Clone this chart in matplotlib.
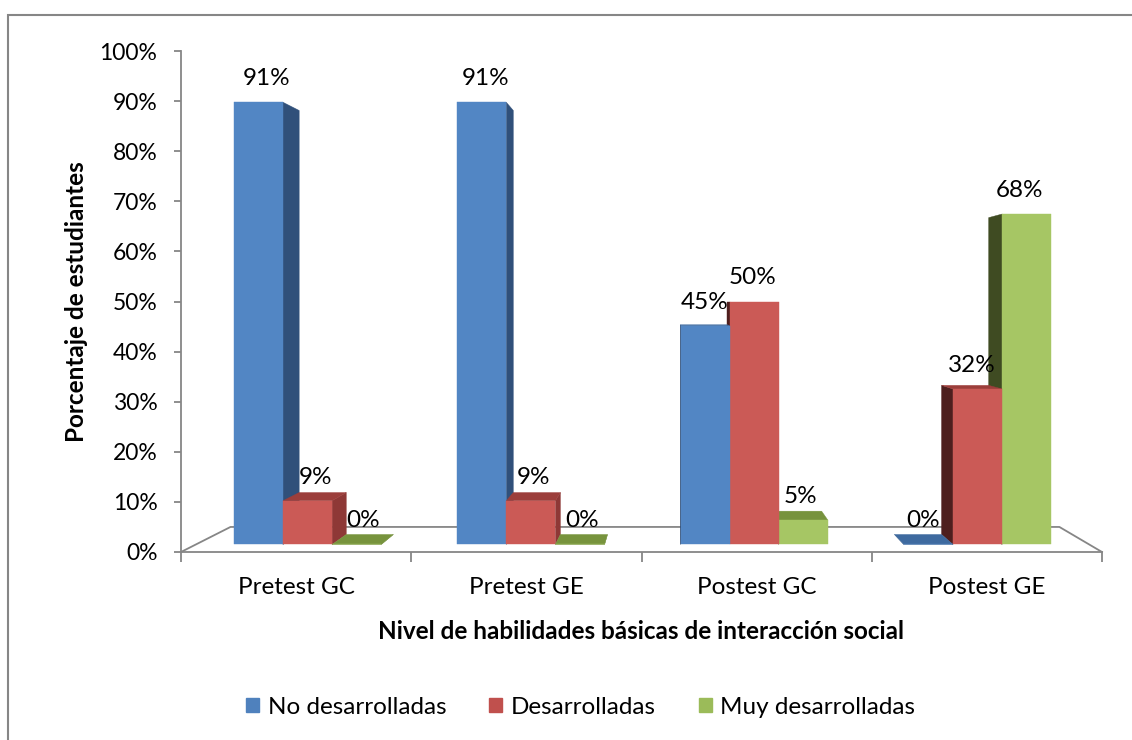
import matplotlib.pyplot as plt
from matplotlib.patches import Polygon, Patch, Rectangle
import numpy as np

plt.rcParams['font.family'] = ['Lato', 'DejaVu Sans']

categories = ['Pretest GC', 'Pretest GE', 'Postest GC', 'Postest GE']
series = ['No desarrolladas', 'Desarrolladas', 'Muy desarrolladas']
no_desarrolladas = [91, 91, 45, 0]
desarrolladas = [9, 9, 50, 32]
muy_desarrolladas = [0, 0, 5, 68]
values = [no_desarrolladas, desarrolladas, muy_desarrolladas]
yticks = np.arange(0, 101, 10)

# colours per series: front, right side, left side, top
front_c = ['#5286C4', '#CB5A56', '#A6C664']
right_c = ['#30507A', '#8E3836', '#6E8A3A']
left_c = ['#2B4468', '#4E1F1E', '#3F4B22']
top_c = ['#3E6A9F', '#9C3E3B', '#77933D']
legend_c = ['#4F81BD', '#C0504D', '#9BBB59']
grey = '#868686'
fs = 17.5

# fake perspective: points recede toward a vanishing point
vp = (1.65, 50.0)
z_front, z_back, z_floor = 0.03, 0.07, 0.10
bar_w = 0.22


def proj(x, y, z):
    return (x + z * (vp[0] - x), y + z * (vp[1] - y))


fig = plt.figure(figsize=(11.32, 7.40), dpi=100)
ax = fig.add_axes([181 / 1132, 1 - 552 / 740, 921 / 1132, 501 / 740])
ax.set_xlim(-0.5, len(categories) - 0.5)
ax.set_ylim(0, 100)

# floor outline
n = len(categories)
floor = [proj(-0.5, 0, 0), proj(-0.5, 0, z_floor), proj(n - 0.5, 0, z_floor), proj(n - 0.5, 0, 0)]
ax.plot([p[0] for p in floor], [p[1] for p in floor], color=grey, lw=1.3, clip_on=False, zorder=1)


def face(pts, color):
    ax.add_patch(Polygon(pts, closed=True, facecolor=color, edgecolor=color, lw=0.3, zorder=2))


for i, cat in enumerate(categories):
    left_side = i < vp[0]
    order = range(len(series)) if left_side else reversed(range(len(series)))
    for j in order:
        v = values[j][i]
        x0 = i - 1.5 * bar_w + j * bar_w
        x1 = x0 + bar_w
        xc = 0.5 * (x0 + x1)
        if xc < vp[0]:
            xs = x1
            face([proj(xs, 0, z_front), proj(xs, v, z_front), proj(xs, v, z_back), proj(xs, 0, z_back)], right_c[j])
        else:
            xs = x0
            face([proj(xs, 0, z_front), proj(xs, v, z_front), proj(xs, v, z_back), proj(xs, 0, z_back)], left_c[j])
        if v < vp[1]:
            face([proj(x0, v, z_front), proj(x1, v, z_front), proj(x1, v, z_back), proj(x0, v, z_back)], top_c[j])
        face([proj(x0, 0, z_front), proj(x1, 0, z_front), proj(x1, v, z_front), proj(x0, v, z_front)], front_c[j])
        lx = proj(xc, v, 0.5 * (z_front + z_back))[0]
        ly = proj(xc, v, z_front)[1]
        ax.annotate(f'{v}%', (lx, ly), xytext=(0, 17), textcoords='offset points',
                    ha='center', va='center', fontsize=fs, color='black', zorder=5)

for s in ['top', 'right']:
    ax.spines[s].set_visible(False)
for s in ['left', 'bottom']:
    ax.spines[s].set_color(grey)
    ax.spines[s].set_linewidth(1.3)

ax.set_yticks(yticks)
ax.set_yticklabels([f'{t}%' for t in yticks], fontsize=16.5)
ax.tick_params(axis='y', length=5, width=1.3, color=grey, pad=12)
ax.set_xticks(np.arange(-0.5, n, 1.0))
ax.set_xticklabels([])
ax.tick_params(axis='x', which='major', length=7, width=1.3, color=grey)
ax.set_xticks(np.arange(n), minor=True)
ax.set_xticklabels(categories, minor=True, fontsize=fs)
ax.tick_params(axis='x', which='minor', length=0, pad=18)

ax.set_ylabel('Porcentaje de estudiantes', fontsize=fs, fontweight='bold', labelpad=8)
ax.set_xlabel('Nivel de habilidades básicas de interacción social', fontsize=fs,
              fontweight='bold', labelpad=16)

handles = [Patch(facecolor=c, edgecolor=c) for c in legend_c]
fig.legend(handles, series, loc='center', bbox_to_anchor=(0.513, 1 - 707 / 740), ncol=3,
           frameon=False, fontsize=fs, handlelength=0.55, handleheight=0.55,
           handletextpad=0.35, columnspacing=1.75)

fig.patches.append(Rectangle((8 / 1132, -0.1), 1.2, 1.1 - 15 / 740, transform=fig.transFigure,
                             fill=False, edgecolor=grey, lw=1.5))

fig.savefig('out.png', dpi=100)
